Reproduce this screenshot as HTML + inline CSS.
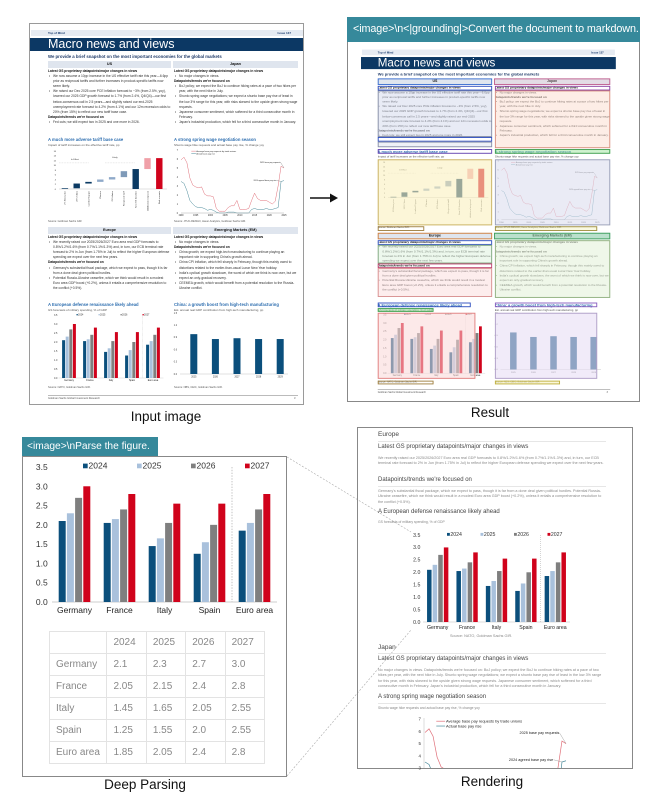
<!DOCTYPE html>
<html><head><meta charset="utf-8">
<style>
*{box-sizing:border-box}
body{margin:0;width:660px;height:803px;overflow:hidden;background:#fff;font-family:"Liberation Sans",sans-serif;position:relative}
.abs{position:absolute}
.lbl{position:absolute;font-size:13.5px;color:#111;text-align:center}
.banner{position:absolute;background:#36899b;color:#fff;font-family:"Liberation Sans",sans-serif;white-space:nowrap;overflow:hidden}
.doc{position:absolute;left:29px;top:23px;width:275px;height:382px;border:1px solid #9a9a9a;background:#fff;overflow:hidden;color:#333}
.doc .t{position:absolute;font-size:3.3px;line-height:5.1px}
.doc .h{font-weight:bold;color:#111}
.doc .b{position:relative;padding-left:5px}
.doc .b:before{content:"•";position:absolute;left:1px}
.doc .sec{position:absolute;height:7px;background:#dfe5ee;font-size:3.8px;font-weight:bold;text-align:center;line-height:7px;color:#111}
.doc .ct{position:absolute;font-size:4.2px;font-weight:bold;color:#2f6fb0;white-space:nowrap}
.doc .cs{position:absolute;font-size:3px;color:#555;white-space:nowrap}
#rend .hd{position:absolute;left:378px;color:#444;white-space:nowrap}
#rend .p{position:absolute;left:378px;width:228px;font-size:3.7px;line-height:5.4px;color:#888}
#rend .hr{position:absolute;left:378px;width:228px;height:1px;background:#e6e6e6}
table#tbl{position:absolute;left:49px;top:631px;width:216px;border-collapse:collapse;font-size:10px;color:#888}
#tbl td{border:1px solid #e3e3e3;height:22px;padding:0 0 0 6px}
</style></head><body>

<!-- Input document -->
<div id="doc" class="doc">
  <div class="abs" style="left:1px;top:6px;width:272px;height:6px;background:#e6ebf2">
    <span class="abs" style="left:17px;top:1px;font-size:3px;font-weight:bold;color:#1a3c6e">Top of Mind</span>
    <span class="abs" style="right:12px;top:1px;font-size:3px;font-weight:bold;color:#1a3c6e">Issue 137</span>
  </div>
  <div class="abs" style="left:0;top:14px;width:274px;height:13px;background:#0c3864">
    <span class="abs" style="left:18px;top:-1px;font-size:12.5px;color:#fff;white-space:nowrap">Macro news and views</span>
  </div>
  <div class="abs" style="left:18px;top:30px;font-size:4.3px;font-weight:bold;color:#1f3a68;white-space:nowrap">We provide a brief snapshot on the most important economies for the global markets</div>
  <div class="sec" style="left:18px;top:37px;width:123px">US</div>
  <div class="sec" style="left:143px;top:37px;width:125px">Japan</div>
  <div class="t" style="left:18px;top:45px;width:123px">
    <div class="h">Latest GS proprietary datapoints/major changes in views</div>
    <div class="b">We now assume a 10pp increase in the US effective tariff rate this year—6.6pp prior as reciprocal tariffs and further increases in product-specific tariffs now seem likely.</div>
    <div class="b">We raised our Dec 2025 core PCE inflation forecast to ~3% (from 2.5%, yoy), lowered our 2025 GDP growth forecast to 1.7% (from 2.4%, Q4/Q4)—our first below-consensus call in 2.5 years—and slightly raised our end-2025 unemployment rate forecast to 4.2% (from 4.1%) and our 12m recession odds to 20% (from 15%) to reflect our new tariff base case.</div>
    <div class="h">Datapoints/trends we're focused on</div>
    <div class="b">Fed cuts; we still expect two in 2025 and one more in 2026.</div>
  </div>
  <div class="t" style="left:144px;top:45px;width:124px">
    <div class="h">Latest GS proprietary datapoints/major changes in views</div>
    <div class="b">No major changes in views.</div>
    <div class="h">Datapoints/trends we're focused on</div>
    <div class="b">BoJ policy; we expect the BoJ to continue hiking rates at a pace of two hikes per year, with the next hike in July.</div>
    <div class="b">Shunto spring wage negotiations; we expect a shunto base pay rise of least in the low 3% range for this year, with risks skewed to the upside given strong wage requests.</div>
    <div class="b">Japanese consumer sentiment, which softened for a third consecutive month in February.</div>
    <div class="b">Japan's industrial production, which fell for a third consecutive month in January.</div>
  </div>
  <div class="ct" style="left:18px;top:113px">A much more adverse tariff base case</div>
  <div class="cs" style="left:18px;top:119px">Impact of tariff increases on the effective tariff rate, pp</div>
  <div class="ct" style="left:144px;top:113px">A strong spring wage negotiation season</div>
  <div class="cs" style="left:144px;top:119px">Shunto wage hike requests and actual base pay rise, % change yoy</div>
  <div class="cs" style="left:18px;top:196px;font-size:2.6px">Source: Goldman Sachs GIR.</div>
  <div class="cs" style="left:144px;top:196px;font-size:2.6px">Source: JTUC-RENGO, Haver Analytics, Goldman Sachs GIR.</div>
  <div class="sec" style="left:18px;top:203px;width:123px">Europe</div>
  <div class="sec" style="left:143px;top:203px;width:125px">Emerging Markets (EM)</div>
  <div class="t" style="left:18px;top:211px;width:123px">
    <div class="h">Latest GS proprietary datapoints/major changes in views</div>
    <div class="b">We recently raised our 2025/2026/2027 Euro area real GDP forecasts to 0.8%/1.2%/1.6% (from 0.7%/1.1%/1.3%) and, in turn, our ECB terminal rate forecast to 2% in Jun (from 1.75% in Jul) to reflect the higher European defense spending we expect over the next few years.</div>
    <div class="h">Datapoints/trends we're focused on</div>
    <div class="b">Germany's substantial fiscal package, which we expect to pass, though it is far from a done deal given political hurdles.</div>
    <div class="b">Potential Russia-Ukraine ceasefire, which we think would result in a modest Euro area GDP boost (+0.2%), unless it entails a comprehensive resolution to the conflict (+0.5%).</div>
  </div>
  <div class="t" style="left:144px;top:211px;width:124px">
    <div class="h">Latest GS proprietary datapoints/major changes in views</div>
    <div class="b">No major changes in views.</div>
    <div class="h">Datapoints/trends we're focused on</div>
    <div class="b">China growth; we expect high-tech manufacturing to continue playing an important role in supporting China's growth ahead.</div>
    <div class="b">China CPI inflation, which fell sharply in February, though this mainly owed to distortions related to the earlier-than-usual Lunar New Year holiday.</div>
    <div class="b">India's cyclical growth slowdown, the worst of which we think is now over, but we expect an only-gradual recovery.</div>
    <div class="b">CEEMEA growth, which would benefit from a potential resolution to the Russia-Ukraine conflict.</div>
  </div>
  <div class="ct" style="left:18px;top:278px">A European defense renaissance likely ahead</div>
  <div class="cs" style="left:18px;top:284px">GS forecasts of military spending, % of GDP</div>
  <div class="ct" style="left:144px;top:278px">China: a growth boost from high-tech manufacturing</div>
  <div class="cs" style="left:144px;top:284px">Est. annual real GDP contribution from high-tech manufacturing, pp</div>
  <div class="cs" style="left:18px;top:362px;font-size:2.6px">Source: NATO, Goldman Sachs GIR.</div>
  <div class="cs" style="left:144px;top:362px;font-size:2.6px">Source: NBS, CEIC, Goldman Sachs GIR.</div>
  <div class="abs" style="left:18px;top:371px;width:250px;height:0.6px;background:#bbb"></div>
  <div class="cs" style="left:18px;top:373px;font-size:2.6px">Goldman Sachs Global Investment Research</div>
  <div class="cs" style="left:264px;top:373px;font-size:2.6px">3</div>
  <svg id="docsvg" class="abs" style="left:0;top:0" width="275" height="382" viewBox="0 0 275 382"></svg>
</div>
<div class="lbl" style="left:106px;top:409px;width:120px">Input image</div>

<!-- Arrow -->
<svg class="abs" style="left:308px;top:190px" width="32" height="16">
  <line x1="2" y1="8" x2="24" y2="8" stroke="#111" stroke-width="1.6"/>
  <polygon points="22,3.5 30,8 22,12.5" fill="#111"/>
</svg>

<!-- Result panel -->
<div class="abs" style="left:347px;top:17px;width:293px;height:385px;border:1px solid #888"></div>
<div id="resultHost" class="abs" style="left:0;top:0;width:660px;height:803px;pointer-events:none"></div>
<div class="banner" style="left:347px;top:17px;width:293px;height:25px;font-size:10.8px;letter-spacing:-0.1px;line-height:25px;padding-left:6px">&lt;image&gt;\n&lt;|grounding|&gt;Convert the document to markdown.</div>
<div class="lbl" style="left:440px;top:405px;width:100px">Result</div>

<!-- Deep parsing panel -->
<div class="abs" style="left:22px;top:456px;width:265px;height:321px;border:1px solid #888"></div>
<div class="banner" style="left:22px;top:437px;width:136px;height:19px;font-size:10.2px;line-height:19px;padding-left:5px">&lt;image&gt;\nParse the figure.</div>
<svg id="deepsvg" class="abs" style="left:0;top:0" width="660" height="803"></svg>
<table id="tbl"></table>
<div class="lbl" style="left:85px;top:777px;width:120px">Deep Parsing</div>

<!-- connectors -->
<svg class="abs" style="left:0;top:0;pointer-events:none" width="660" height="803">
  <line x1="287" y1="457" x2="411" y2="532" stroke="#aaa" stroke-width="0.6" stroke-dasharray="2,1.5"/>
  <line x1="287" y1="776" x2="411" y2="630" stroke="#aaa" stroke-width="0.6" stroke-dasharray="2,1.5"/>
</svg>

<!-- Rendering panel -->
<div id="rend" class="abs" style="left:0;top:0;width:660px;height:803px">
  <div class="abs" style="left:357px;top:427px;width:276px;height:342px;border:1px solid #888"></div>
  <div class="hd" style="top:431px;font-size:6.5px">Europe</div>
  <div class="hr" style="top:441px"></div>
  <div class="hd" style="top:444px;font-size:6px">Latest GS proprietary datapoints/major changes in views</div>
  <div class="p" style="top:456px">We recently raised our 2025/2026/2027 Euro area real GDP forecasts to 0.8%/1.2%/1.6% (from 0.7%/1.1%/1.3%) and, in turn, our ECB terminal rate forecast to 2% in Jun (from 1.75% in Jul) to reflect the higher European defense spending we expect over the next few years.</div>
  <div class="hd" style="top:477px;font-size:6px">Datapoints/trends we're focused on</div>
  <div class="hr" style="top:486px"></div>
  <div class="p" style="top:489px">Germany's substantial fiscal package, which we expect to pass, though it is far from a done deal given political hurdles. Potential Russia-Ukraine ceasefire, which we think would result in a modest Euro area GDP boost (+0.2%), unless it entails a comprehensive resolution to the conflict (+0.5%).</div>
  <div class="hd" style="top:509px;font-size:6px">A European defense renaissance likely ahead</div>
  <div class="p" style="top:520px;font-size:3.4px">GS forecasts of military spending, % of GDP</div>
  <div class="hd" style="top:634px;left:450px;font-size:3.8px;color:#888">Source: NATO, Goldman Sachs GIR.</div>
  <div class="hd" style="top:644px;font-size:6.5px">Japan</div>
  <div class="hr" style="top:653px"></div>
  <div class="hd" style="top:656px;font-size:6px">Latest GS proprietary datapoints/major changes in views</div>
  <div class="p" style="top:668px">No major changes in views. Datapoints/trends we're focused on: BoJ policy; we expect the BoJ to continue hiking rates at a pace of two hikes per year, with the next hike in July. Shunto spring wage negotiations; we expect a shunto base pay rise of least in the low 3% range for this year, with risks skewed to the upside given strong wage requests. Japanese consumer sentiment, which softened for a third consecutive month in February. Japan's industrial production, which fell for a third consecutive month in January.</div>
  <div class="hd" style="top:694px;font-size:6px">A strong spring wage negotiation season</div>
  <div class="hr" style="top:703px"></div>
  <div class="p" style="top:706px;font-size:3.4px">Shunto wage hike requests and actual base pay rise, % change yoy</div>
  <svg id="rendsvg" class="abs" style="left:0;top:0" width="660" height="803"></svg>
</div>
<div class="lbl" style="left:442px;top:774px;width:100px">Rendering</div>

<script>
// ---- Defense spending data (% of GDP) ----
const countries = ["Germany","France","Italy","Spain","Euro area"];
const years = ["2024","2025","2026","2027"];
const v2024 = [2.1, 2.05, 1.45, 1.25, 1.85];
const v2025 = [2.3, 2.15, 1.65, 1.55, 2.05];
const v2026 = [2.7, 2.4, 2.05, 2.0, 2.4];
const v2027 = [3.0, 2.8, 2.55, 2.55, 2.8];
const yTicks = [0, 0.5, 1.0, 1.5, 2.0, 2.5, 3.0, 3.5];
// ---- Shunto wage data ----
const wageYears = [1990,1991,1992,1993,1994,1995,1996,1997,1998,1999,2000,2001,2002,2003,2004,2005,2006,2007,2008,2009,2010,2011,2012,2013,2014,2015,2016,2017,2018,2019,2020,2021,2022,2023,2024,2025];
const wageRequests = [5.9,6.2,5.6,3.9,3.1,2.9,2.8,2.9,2.1,1.9,1.9,1.8,0.5,0.2,0.2,0.2,0.6,0.8,0.8,1.4,0.4,0.4,0.4,0.5,1.4,2.2,1.6,1.4,1.4,1.4,1.2,1.0,1.3,3.0,5.2,5.0];
const wageActual = [3.5,3.3,2.5,1.4,1.0,0.7,0.6,0.6,0.5,0.3,0.4,0.3,0.1,0,0,0,0.1,0.1,0.1,0,0,0,0,0,0.4,0.5,0.4,0.4,0.4,0.5,0.4,0.4,0.5,0.6,3.5,3.6];
const wageTicks = [0,1,2,3,4,5,6,7];
const wageXTicks = [1990,1995,2000,2005,2010,2015,2020,2025];
// ---- Tariff waterfall (pp) ----
const tariffCats = ["2% Base prior","20% China","Lumber/Copper","Pharma","25% Autos","Reciprocal tariff","New GS baseline","Additional reciprocal","Risk scenario"];
const tariffStart = [0, 0.3, 2.3, 3.0, 4.0, 5.0, 0, 8.4, 0];
const tariffEnd = [0.3, 2.3, 3.0, 4.0, 5.0, 7.5, 8.4, 13.0, 13.0];
const tariffTicks = [0,2,4,6,8,10,12,14,16];
// ---- China high-tech contribution (pp) ----
const chinaYears = ["2025","2026","2027","2028","2029"];
const chinaVals = [0.98, 0.86, 0.88, 0.86, 0.86];
const chinaTicks = [0, 0.3, 0.6, 0.9, 1.2, 1.5];

const series = [v2024, v2025, v2026, v2027];
const colors = ["#0b4f7c", "#a9c1dc", "#7f7f7f", "#d0021b"];
const NS = "http://www.w3.org/2000/svg";
function mk(parent, tag, attrs, txt) {
  const e = document.createElementNS(NS, tag);
  for (const k in attrs) e.setAttribute(k, attrs[k]);
  if (txt !== undefined) e.textContent = txt;
  parent.appendChild(e);
  return e;
}

function defenseChart(svg, o) {
  const gw = o.width / countries.length;
  const y = v => o.y0 - v / 3.5 * (o.y0 - o.yTop);
  yTicks.forEach(t => {
    const tl = mk(svg, "text", {x: o.left - o.fs * 0.5, y: y(t) + o.fs * 0.35, "font-size": o.fs, "text-anchor": "end", fill: "#333", "font-family": "Liberation Sans, sans-serif"}, t.toFixed(1));
    
    
  });
  const ax = mk(svg, "line", {x1: o.left, y1: o.y0, x2: o.left + o.width, y2: o.y0, stroke: "#bbb", "stroke-width": o.sw});
  
  
  const dv = mk(svg, "line", {x1: o.left + gw * 4, y1: o.yTop, x2: o.left + gw * 4, y2: o.y0, stroke: "#aaa", "stroke-width": o.sw, "stroke-dasharray": o.sw * 2 + "," + o.sw * 2});
  
  
  countries.forEach((c, i) => {
    const cx = o.left + (i + 0.5) * gw;
    series.forEach((s, j) => {
      const r = mk(svg, "rect", {x: cx + (j - 1.5) * o.step - o.bw / 2, y: y(s[i]), width: o.bw, height: o.y0 - y(s[i]), fill: colors[j]});
      
      
    });
    const cl = mk(svg, "text", {x: cx, y: o.y0 + o.fs * 1.3, "font-size": o.fs, "text-anchor": "middle", fill: "#222", "font-family": "Liberation Sans, sans-serif"}, c);
    
    
  });
  years.forEach((yr, j) => {
    const lx = o.left + o.legX + j * o.legStep;
    const sq = mk(svg, "rect", {x: lx, y: o.yTop - o.fs * 0.4, width: o.fs * 0.55, height: o.fs * 0.55, fill: colors[j]});
    
    
    const lt = mk(svg, "text", {x: lx + o.fs * 0.65, y: o.yTop + o.fs * 0.2, "font-size": o.fs, fill: "#333", "font-family": "Liberation Sans, sans-serif"}, yr);
    
    
  });
}

function wageChart(svg, o) {
  const x = yr => o.left + (yr - 1990) / 35 * o.width;
  const y = v => o.y0 - v / 7 * (o.y0 - o.yTop);
  const g = mk(svg, "g", o.clip ? {"clip-path": "url(#" + o.clip + ")"} : {});
  if (!o.noAxis) {
    wageTicks.forEach(t => {
      const tl = mk(svg, "text", {x: o.left - 3, y: y(t) + 1, "font-size": o.fs, "text-anchor": "end", fill: "#333", "font-family": "Liberation Sans, sans-serif"}, t);
      
      
    });
    wageXTicks.forEach(t => {
      const tl = mk(svg, "text", {x: x(t), y: o.y0 + o.fs * 1.4, "font-size": o.fs, "text-anchor": "middle", fill: "#333", "font-family": "Liberation Sans, sans-serif"}, t);
      
      
    });
    mk(svg, "line", {x1: o.left, y1: o.y0, x2: o.left + o.width, y2: o.y0, stroke: "#999", "stroke-width": 0.4});
  } else {
    o.visTicks.forEach(t => {
      const tl = mk(svg, "text", {x: o.left - 4, y: y(t) + 1.5, "font-size": o.fs, "text-anchor": "end", fill: "#333", "font-family": "Liberation Sans, sans-serif"}, t);
      
      
    });
    mk(svg, "line", {x1: o.left - 1, y1: o.yClipTop, x2: o.left - 1, y2: o.yClipBot, stroke: "#bbb", "stroke-width": 0.5});
  }
  const path = arr => arr.map((v, i) => (i ? "L" : "M") + x(wageYears[i]).toFixed(2) + "," + y(v).toFixed(2)).join(" ");
  const pr = mk(g, "path", {d: path(wageRequests), fill: "none", stroke: "#e0707a", "stroke-width": o.lw});
  
  
  const pa = mk(g, "path", {d: path(wageActual), fill: "none", stroke: "#4a8a9a", "stroke-width": o.lw});
  
  
  const lx = o.left + o.width * o.legX;
  mk(svg, "line", {x1: lx, y1: o.yTop + o.fs * 0.5, x2: lx + o.fs * 2, y2: o.yTop + o.fs * 0.5, stroke: "#e0707a", "stroke-width": o.lw});
  const l1 = mk(svg, "text", {x: lx + o.fs * 2.2, y: o.yTop + o.fs * 0.85, "font-size": o.fs * 0.9, fill: "#222", "font-family": "Liberation Sans, sans-serif"}, "Average base pay requests by trade unions");
  
  
  mk(svg, "line", {x1: lx, y1: o.yTop + o.fs * 1.6, x2: lx + o.fs * 2, y2: o.yTop + o.fs * 1.6, stroke: "#4a8a9a", "stroke-width": o.lw});
  const l2 = mk(svg, "text", {x: lx + o.fs * 2.2, y: o.yTop + o.fs * 1.95, "font-size": o.fs * 0.9, fill: "#222", "font-family": "Liberation Sans, sans-serif"}, "Actual base pay rise");
  
  
  const n = wageYears.length - 1;
  const a1 = mk(svg, "text", {x: x(2025) - o.fs * 1.5, y: y(wageRequests[n]) - o.fs * 2.2, "font-size": o.fs * 0.85, "text-anchor": "end", fill: "#222", "font-family": "Liberation Sans, sans-serif"}, "2025 base pay requests");
  
  
  mk(svg, "line", {x1: x(2025) - o.fs * 1.4, y1: y(wageRequests[n]) - o.fs * 2.3, x2: x(2025), y2: y(wageRequests[n]), stroke: "#666", "stroke-width": 0.3});
  const a2 = mk(svg, "text", {x: x(2024) - o.fs * 2, y: y(wageActual[n - 1]) - o.fs * 0.2, "font-size": o.fs * 0.85, "text-anchor": "end", fill: "#222", "font-family": "Liberation Sans, sans-serif"}, "2024 agreed base pay rise");
  
  
  mk(svg, "line", {x1: x(2024) - o.fs * 1.9, y1: y(wageActual[n - 1]) - o.fs * 0.5, x2: x(2024), y2: y(wageActual[n - 1]), stroke: "#666", "stroke-width": 0.3});
}

// ---------- input document charts ----------
const ds = document.getElementById("docsvg");
(function () {
  const L = 29, y0 = 165, yTop = 127, gw = 11.8;
  const y = v => y0 - v / 16 * (y0 - yTop);
  const tc = ["#0b3a63", "#0b3a63", "#0b3a63", "#8fa9c9", "#8fa9c9", "#7f9ab8", "#0b3a63", "#f0a0a8", "#d0021b"];
  tariffTicks.forEach(t => { mk(ds, "text", {x: L - 3, y: y(t) + 0.8, "font-size": 2.2, "text-anchor": "end", fill: "#333"}, t); });
  mk(ds, "line", {x1: L, y1: y0, x2: L + 108, y2: y0, stroke: "#999", "stroke-width": 0.3});
  mk(ds, "line", {x1: L, y1: y(11), x2: L + 30, y2: y(11), stroke: "#aaa", "stroke-width": 0.3, "stroke-dasharray": "0.8,0.8"});
  mk(ds, "line", {x1: L + 46, y1: y(11), x2: L + 76, y2: y(11), stroke: "#aaa", "stroke-width": 0.3, "stroke-dasharray": "0.8,0.8"});
  mk(ds, "text", {x: L + 12, y: y(12.3), "font-size": 2.2, fill: "#333"}, "In Effect");
  mk(ds, "text", {x: L + 53, y: y(13), "font-size": 2.2, fill: "#333"}, "Likely");
  tariffCats.forEach((c, i) => {
    const cx = L + (i + 0.5) * gw;
    const r = mk(ds, "rect", {x: cx - 3.2, y: y(tariffEnd[i]), width: 6.4, height: Math.max(0.4, y(tariffStart[i]) - y(tariffEnd[i])), fill: tc[i]});
    
    
    mk(ds, "text", {x: cx + 0.8, y: y0 + 2, "font-size": 2.2, "text-anchor": "end", fill: "#333", transform: "rotate(-90 " + (cx + 0.8) + " " + (y0 + 2) + ")"}, c);
  });
})();
wageChart(ds, {left: 151, width: 103, y0: 189, yTop: 126, fs: 2.3, lw: 0.5, legX: 0.1});
defenseChart(ds, {left: 28.5, width: 105, y0: 354, yTop: 291, fs: 2.4, bw: 3, step: 3.6, sw: 0.3, legX: 18, legStep: 22});
(function () {
  const L = 150, y0 = 350, yTop = 289, gw = 21.6;
  const y = v => y0 - v / 1.5 * (y0 - yTop);
  chinaTicks.forEach(t => { mk(ds, "text", {x: L - 3, y: y(t) + 0.8, "font-size": 2.3, "text-anchor": "end", fill: "#333"}, t.toFixed(1)); });
  mk(ds, "line", {x1: L, y1: y0, x2: L + 108, y2: y0, stroke: "#999", "stroke-width": 0.3});
  chinaYears.forEach((c, i) => {
    const cx = L + (i + 0.5) * gw + 3;
    const r = mk(ds, "rect", {x: cx - 3.5, y: y(chinaVals[i]), width: 7, height: y0 - y(chinaVals[i]), fill: "#0b4f7c"});
    
    
    mk(ds, "text", {x: cx, y: y0 + 3.5, "font-size": 2.3, "text-anchor": "middle", fill: "#333"}, c);
  });
})();

// ---------- result document (clone + grounding boxes) ----------
(function () {
  const host = document.getElementById("resultHost");
  const c = document.getElementById("doc").cloneNode(true);
  c.id = "doc2";
  
  
  c.style.border = "none";
  c.style.left = "361px";
  c.style.top = "43.5px";
  c.style.transformOrigin = "0 0";
  c.style.transform = "scale(0.93)";
  const boxes = [
    [18,37,123,7,"#3b6fd0","rgba(0,0,0,0)"],[143,37,125,7,"#c06090","rgba(240,200,210,.3)"],
    [18,45,123,5,"#3050c0","rgba(0,0,0,0)"],[144,45,124,5,"#8a40a0","rgba(0,0,0,0)"],
    [18,50,123,50,"#8890a8","rgba(205,210,232,.45)"],[18,100,123,5,"#3050c0","rgba(0,0,0,0)"],[18,105,123,6,"#8890a8","rgba(215,220,235,.4)"],
    [144,50,124,62,"#d89080","rgba(250,215,200,.45)"],
    [18,113,123,5,"#6040b0","rgba(0,0,0,0)"],[144,113,124,5,"#40a050","rgba(160,230,160,.5)"],
    [18,124,123,71,"#c8b060","rgba(250,240,190,.6)"],[144,124,124,71,"#9aa0b8","rgba(220,222,238,.6)"],
    [18,196,50,5,"#a08040","rgba(0,0,0,0)"],[144,196,110,5,"#a09040","rgba(240,240,180,.4)"],
    [18,203,123,7,"#d08040","rgba(0,0,0,0)"],[143,203,125,7,"#40a060","rgba(150,220,170,.5)"],
    [18,211,123,5,"#3050c0","rgba(0,0,0,0)"],[18,216,123,20,"#80a880","rgba(215,240,215,.45)"],
    [18,236,123,5,"#c04070","rgba(0,0,0,0)"],[18,241,123,31,"#d89090","rgba(250,215,215,.45)"],
    [144,211,124,62,"#90b080","rgba(225,240,215,.55)"],
    [18,278,100,5,"#3050c0","rgba(0,0,0,0)"],[18,284,60,4,"#40a050","rgba(160,230,160,.5)"],[144,278,110,5,"#8a60c0","rgba(0,0,0,0)"],
    [18,289,105,71,"#e08080","rgba(250,215,215,.55)"],[144,289,110,71,"#b0a0c8","rgba(232,222,245,.6)"],
    [18,362,60,4,"#a08040","rgba(0,0,0,0)"],[144,362,70,4,"#c0b040","rgba(245,240,180,.5)"]
  ];
  boxes.forEach(b => {
    const d = document.createElement("div");
    
    
    d.style.cssText = "position:absolute;left:" + b[0] + "px;top:" + b[1] + "px;width:" + b[2] + "px;height:" + b[3] + "px;border:0.6px solid " + b[4] + ";background:" + b[5];
    c.appendChild(d);
  });
  host.appendChild(c);
})();

// ---------- deep parsing chart & table ----------
const dp = document.getElementById("deepsvg");
defenseChart(dp, {left: 52, width: 225, y0: 602, yTop: 467, fs: 8.5, bw: 7, step: 8.2, sw: 0.7, legX: 31, legStep: 54});
(function () {
  const t = document.getElementById("tbl");
  const fmt = v => (v % 1 === 0 ? v.toFixed(1) : String(v));
  let tr = t.insertRow();
  
  
  const c0 = tr.insertCell(); c0.style.width = "58px";
  years.forEach(y => { const c = tr.insertCell(); c.textContent = y; c.style.width = "40px"; });
  countries.forEach((name, i) => {
    const r = t.insertRow();
    
    
    r.insertCell().textContent = name;
    series.forEach(s => { r.insertCell().textContent = fmt(s[i]); });
  });
})();

// ---------- rendering panel charts ----------
const rs = document.getElementById("rendsvg");
defenseChart(rs, {left: 423, width: 147, y0: 622, yTop: 535, fs: 5.2, bw: 4.5, step: 5.6, sw: 0.5, legX: 24, legStep: 33.5});
const defs = mk(rs, "defs", {});
const cp = mk(defs, "clipPath", {id: "wclip"});
mk(cp, "rect", {x: 400, y: 716, width: 200, height: 52});
wageChart(rs, {left: 425, width: 141, y0: 805, yTop: 719, fs: 4.4, lw: 0.7, legX: 0.08, clip: "wclip", noAxis: true, visTicks: [3,4,5,6,7], yClipTop: 718, yClipBot: 768});
</script>
</body></html>
